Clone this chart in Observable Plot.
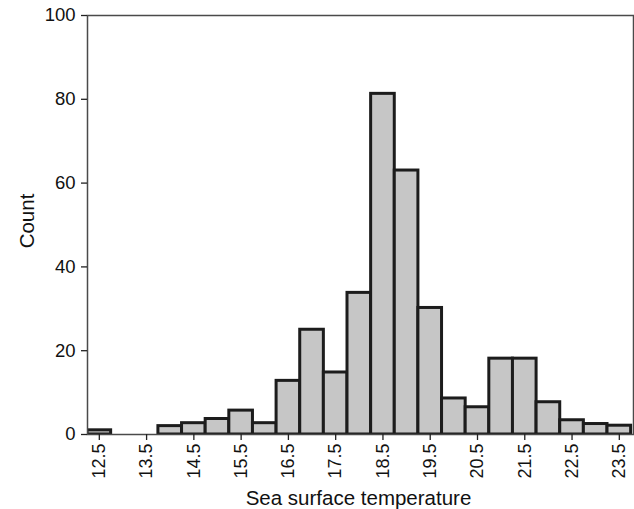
<!DOCTYPE html>
<html><head><meta charset="utf-8">
<script src="https://cdn.jsdelivr.net/npm/d3@7"></script>
<script src="https://cdn.jsdelivr.net/npm/@observablehq/plot@0.6"></script>
<style>body{margin:0;background:#fff} svg{display:block}</style>
</head><body><div id="chart"></div>
<script>
const binCenters = [12.5,13,13.5,14,14.5,15,15.5,16,16.5,17,17.5,18,18.5,19,19.5,20,20.5,21,21.5,22,22.5,23,23.5];
const counts = [1,0,0,2,2.7,3.7,5.7,2.7,12.8,25,14.8,33.8,81.3,63,30.2,8.6,6.5,18.1,18.1,7.7,3.4,2.5,2.1];
const xTicks = [12.5,13.5,14.5,15.5,16.5,17.5,18.5,19.5,20.5,21.5,22.5,23.5];
const yTicks = [0,20,40,60,80,100];
const binWidth = 0.5;
const data = binCenters.map((x,i)=>({x1:x-binWidth/2,x2:x+binWidth/2,count:counts[i]}));
const chart = Plot.plot({
  width:634, height:509, marginLeft:87, marginRight:1, marginTop:15, marginBottom:75,
  style:{fontFamily:"'Liberation Sans', Arial, sans-serif", background:"#fff", color:"#111"},
  x:{domain:[12.25,23.8]},
  y:{domain:[0,100]},
  marks:[
    Plot.rectY(data,{filter:d=>d.count>0,x1:"x1",x2:"x2",y1:0,y2:"count",fill:"#c6c6c6",stroke:"#1c1c1c",strokeWidth:3,clip:true}),
    Plot.frame({stroke:"#4a4a4a",strokeWidth:1.5}),
    Plot.axisY({ticks:yTicks,tickSize:6,tickPadding:6,fontSize:18.5,label:null,stroke:"#222",strokeWidth:1.3}),
    Plot.axisX({ticks:xTicks,tickRotate:-90,tickSize:6,tickPadding:3,fontSize:18,label:null,tickFormat:d=>d.toFixed(1),stroke:"#222",strokeWidth:1.3}),
    Plot.text(["Count"],{frameAnchor:"left",dx:-60,dy:-4,rotate:-90,textAnchor:"middle",lineAnchor:"middle",fontSize:20.5,fill:"#111"}),
    Plot.text(["Sea surface temperature"],{frameAnchor:"bottom",dx:-2,dy:64,textAnchor:"middle",lineAnchor:"middle",fontSize:20.5,fill:"#111"})
  ]
});
document.getElementById("chart").append(chart);
</script>
</body></html>
